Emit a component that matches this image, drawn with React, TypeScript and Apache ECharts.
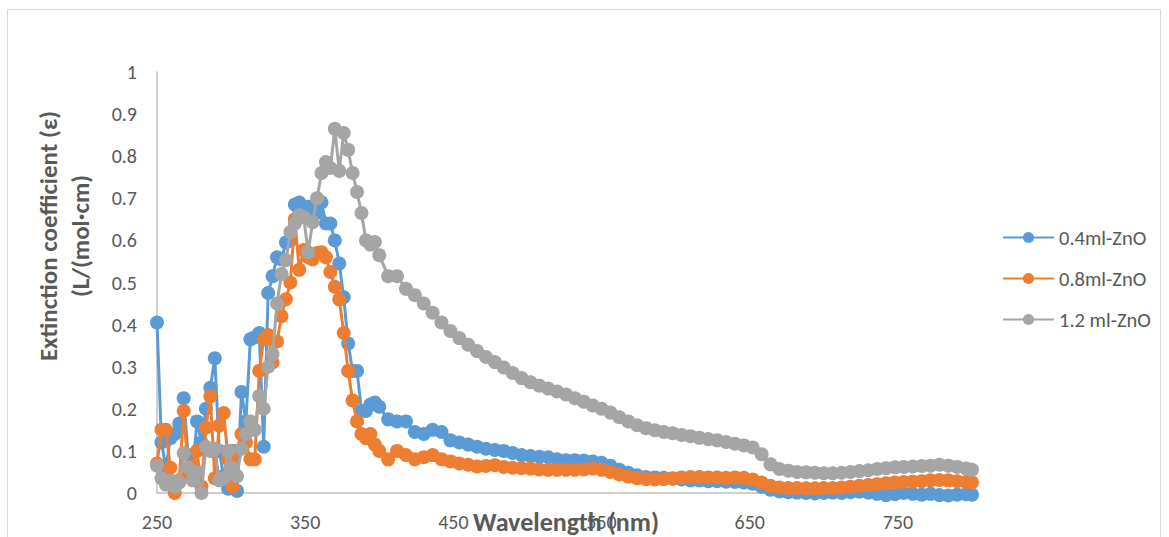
import React, { useEffect, useRef } from "react";
import * as echarts from "echarts";

const wavelength = [
  250, 253, 256, 259, 262, 265, 268, 271, 274, 277,
  280, 283, 286, 289, 292, 295, 298, 301, 304, 307,
  310, 313, 316, 319, 322, 325, 328, 331, 334, 337,
  340, 343, 346, 349, 352, 355, 358, 361, 364, 367,
  370, 373, 376, 379, 382, 385, 388, 391, 394, 397,
  400,
  406, 412, 418, 424, 430, 436, 442, 448, 454, 460,
  466, 472, 478, 484, 490, 496, 502, 508, 514, 520,
  526, 532, 538, 544, 550, 556, 562, 568, 574, 580,
  586, 592, 598, 604, 610, 616, 622, 628, 634, 640,
  646, 652, 658, 664, 670, 676, 682, 688, 694, 700,
  706, 712, 718, 724, 730, 736, 742, 748, 754, 760,
  766, 772, 778, 784, 790, 796, 800,
];

const zno04 = [
  0.405, 0.12, 0.06, 0.13, 0.14, 0.165, 0.225, 0.09, 0.05, 0.17,
  0.12, 0.2, 0.25, 0.32, 0.1, 0.04, 0.01, 0.1, 0.005, 0.24,
  0.17, 0.365, 0.37, 0.38, 0.11, 0.475, 0.515, 0.56, 0.555, 0.595,
  0.6, 0.685, 0.69, 0.665, 0.68, 0.68, 0.665, 0.69, 0.64, 0.64,
  0.6, 0.545, 0.465, 0.355, 0.29, 0.29, 0.195, 0.195, 0.21, 0.215,
  0.205,
  0.175, 0.17, 0.17, 0.145, 0.14, 0.15, 0.145, 0.125, 0.12, 0.115,
  0.11, 0.105, 0.102, 0.1, 0.095, 0.09, 0.088, 0.086, 0.085, 0.08,
  0.078, 0.078, 0.077, 0.075, 0.072, 0.065, 0.055, 0.048, 0.042, 0.038,
  0.037, 0.036, 0.034, 0.032, 0.03, 0.03, 0.028, 0.028, 0.027, 0.026,
  0.025, 0.022, 0.015, 0.008, 0.004, 0.002, 0.001, 0.0, -0.001, 0.0,
  0.001, 0.0, 0.002, 0.003, 0.001, -0.002, -0.005, -0.003, 0.0, -0.002,
  -0.004, -0.002, -0.005, -0.006, -0.004, -0.003, -0.004,
];

const zno08 = [
  0.07, 0.15, 0.15, 0.06, 0.0, 0.03, 0.195, 0.05, 0.065, 0.1,
  0.015, 0.155, 0.23, 0.035, 0.16, 0.19, 0.08, 0.015, 0.1, 0.14,
  0.12, 0.08, 0.08, 0.29, 0.365, 0.375, 0.31, 0.36, 0.42, 0.46,
  0.5, 0.65, 0.53, 0.577, 0.56, 0.555, 0.57, 0.572, 0.56, 0.525,
  0.49, 0.46, 0.38, 0.29, 0.22, 0.17, 0.14, 0.13, 0.14, 0.115,
  0.1,
  0.08, 0.1, 0.09, 0.08, 0.085, 0.09, 0.08, 0.075, 0.07, 0.067,
  0.063, 0.064, 0.066, 0.062, 0.06, 0.059, 0.058, 0.056, 0.055, 0.055,
  0.055, 0.055, 0.056, 0.058, 0.055, 0.05, 0.044, 0.039, 0.035, 0.033,
  0.032, 0.033, 0.035, 0.037, 0.038, 0.038, 0.037, 0.037, 0.036, 0.037,
  0.036, 0.032, 0.025, 0.017, 0.013, 0.012, 0.012, 0.011, 0.011, 0.012,
  0.012, 0.013, 0.015, 0.017, 0.019, 0.021, 0.023, 0.025, 0.026, 0.027,
  0.028, 0.03, 0.031, 0.03, 0.028, 0.026, 0.025,
];

const zno12 = [
  0.065, 0.035, 0.02, 0.03, 0.015, 0.025, 0.095, 0.06, 0.03, 0.05,
  0.0, 0.11, 0.1, 0.105, 0.03, 0.035, 0.1, 0.06, 0.04, 0.105,
  0.14, 0.17, 0.15, 0.23, 0.2, 0.3, 0.33, 0.45, 0.52, 0.553,
  0.62, 0.64, 0.66, 0.655, 0.572, 0.643, 0.7, 0.76, 0.786, 0.772,
  0.865, 0.765, 0.855, 0.815, 0.76, 0.715, 0.665, 0.6, 0.59, 0.596,
  0.565,
  0.515, 0.515, 0.485, 0.47, 0.45, 0.428, 0.405, 0.385, 0.368, 0.352,
  0.337, 0.323, 0.311, 0.298, 0.285, 0.273, 0.263, 0.255, 0.248, 0.241,
  0.234, 0.225, 0.217, 0.208, 0.2, 0.191, 0.18, 0.17, 0.161, 0.154,
  0.149, 0.145, 0.142, 0.138, 0.135, 0.131, 0.128, 0.125, 0.121, 0.117,
  0.113, 0.108, 0.092, 0.068, 0.057, 0.053, 0.05, 0.049, 0.048, 0.047,
  0.047, 0.048, 0.05, 0.052, 0.054, 0.057, 0.059, 0.061, 0.062, 0.063,
  0.064, 0.065, 0.067, 0.065, 0.062, 0.058, 0.055,
];

const xTickLabels = [250, 350, 450, 550, 650, 750];
const seriesNames = ["0.4ml-ZnO", "0.8ml-ZnO", "1.2 ml-ZnO"];
const seriesColors = ["#5B9BD5", "#ED7D31", "#A5A5A5"];

const TEXT = "#595959";
const FONT = "Calibri, Carlito, 'Open Sans', 'Noto Sans', sans-serif";

export default function App() {
  const ref = useRef<HTMLDivElement>(null);
  useEffect(() => {
    document.body.style.margin = "0";
    if (!ref.current) return;
    const chart = echarts.init(ref.current, undefined, { renderer: "svg" });
    const allSeries = [zno04, zno08, zno12];
    chart.setOption({
      animation: false,
      backgroundColor: "#ffffff",
      textStyle: { fontFamily: FONT },
      grid: { left: 157, right: 197, top: 72, bottom: 44 },
      xAxis: {
        type: "value",
        min: 250,
        max: 800,
        axisLine: { show: true, lineStyle: { color: "#BFBFBF", width: 1.5 } },
        axisTick: { show: false },
        splitLine: { show: false },
        axisLabel: {
          customValues: xTickLabels,
          color: TEXT,
          fontSize: 20,
          margin: 19,
          fontFamily: FONT,
        },
      },
      yAxis: {
        type: "value",
        min: 0,
        max: 1,
        interval: 0.1,
        axisLine: { show: true, lineStyle: { color: "#BFBFBF", width: 1.5 } },
        axisTick: { show: false },
        splitLine: { show: false },
        axisLabel: {
          color: TEXT,
          fontSize: 20,
          margin: 20,
          fontFamily: FONT,
          formatter: (v: number) => String(Math.round(v * 10) / 10),
        },
      },
      legend: {
        orient: "vertical",
        left: 997,
        top: 222,
        itemWidth: 51,
        itemHeight: 14,
        itemGap: 20,
        textStyle: { color: TEXT, fontSize: 20.5, fontFamily: FONT },
        data: seriesNames,
      },
      series: allSeries.map((vals, i) => ({
        name: seriesNames[i],
        type: "line",
        data: wavelength.map((w, k) => [w, vals[k]]),
        symbol: "circle",
        symbolSize: 14,
        showSymbol: true,
        clip: false,
        color: seriesColors[i],
        itemStyle: { color: seriesColors[i] },
        lineStyle: { color: seriesColors[i], width: 3 },
        z: 2 + i,
      })),
      graphic: [
        {
          type: "rect",
          shape: { x: 7.5, y: 9.5, width: 1153, height: 540 },
          style: { fill: "none", stroke: "#D9D9D9", lineWidth: 1 },
          silent: true,
          z: -1,
        },
        {
          type: "text",
          x: 64,
          y: 236,
          rotation: Math.PI / 2,
          style: {
            text: "Extinction coefficient (ε)\n(L/(mol·cm)",
            fill: TEXT,
            font: `bold 25px ${FONT}`,
            align: "center",
            verticalAlign: "middle",
            lineHeight: 32,
          },
        },
        {
          type: "text",
          x: 566,
          y: 522,
          style: {
            text: "Wavelength (nm)",
            fill: TEXT,
            font: `bold 26px ${FONT}`,
            align: "center",
            verticalAlign: "middle",
          },
          z: 10,
        },
      ],
    });
    return () => chart.dispose();
  }, []);
  return <div ref={ref} style={{ width: 1169, height: 537 }} />;
}
